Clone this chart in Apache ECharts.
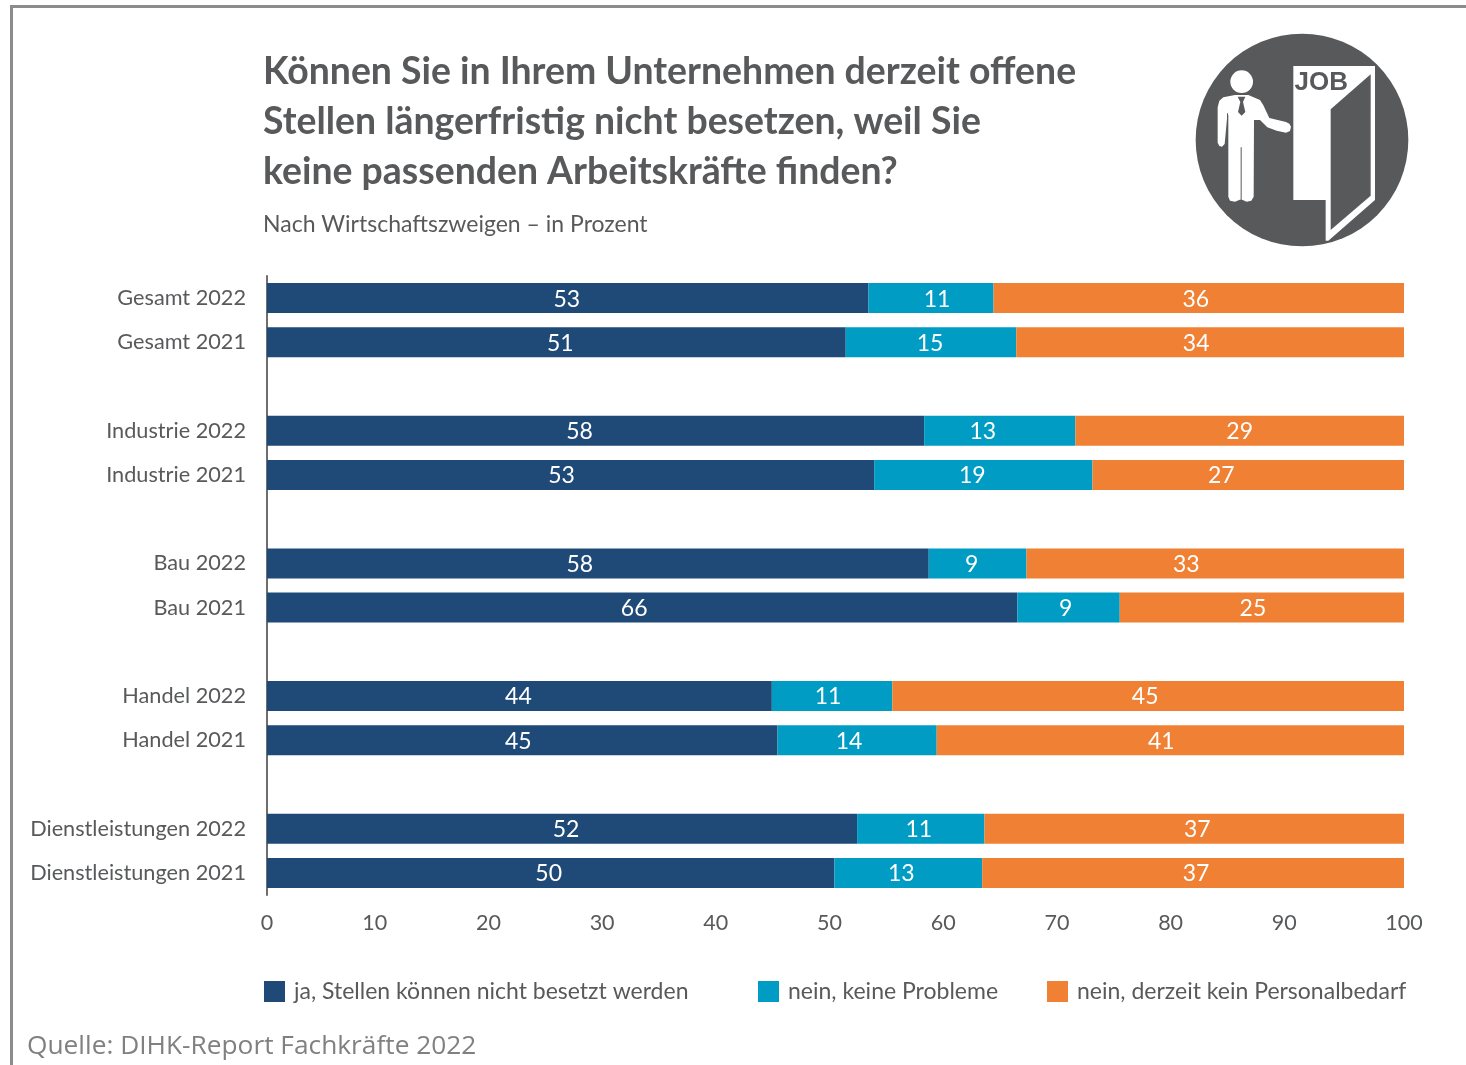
<!DOCTYPE html>
<html><head><meta charset="utf-8">
<style>html,body{margin:0;padding:0;background:#fff}#c{width:1466px;height:1065px}</style>
<script src="https://cdn.jsdelivr.net/npm/echarts@6/dist/echarts.min.js"></script>
</head><body><div id="c"></div>
<script>
const categories = ['Gesamt 2022','Gesamt 2021','','Industrie 2022','Industrie 2021','','Bau 2022','Bau 2021','','Handel 2022','Handel 2021','','Dienstleistungen 2022','Dienstleistungen 2021'];
const seriesNames = ['ja, Stellen können nicht besetzt werden','nein, keine Probleme','nein, derzeit kein Personalbedarf'];
// segment lengths
const jaValues    = [52.9,50.9,null,57.8,53.4,null,58.2,66.0,null,44.4,44.9,null,51.9,49.9];
const neinValues  = [11.0,15.0,null,13.3,19.2,null,8.6,9.0,null,10.6,14.0,null,11.2,13.0];
const keinValues  = [36.1,34.1,null,28.9,27.4,null,33.2,25.0,null,45.0,41.1,null,36.9,37.1];
// numbers printed on the bars
const jaLabels    = [53,51,null,58,53,null,58,66,null,44,45,null,52,50];
const neinLabels  = [11,15,null,13,19,null,9,9,null,11,14,null,11,13];
const keinLabels  = [36,34,null,29,27,null,33,25,null,45,41,null,37,37];
const titleText = 'Können Sie in Ihrem Unternehmen derzeit offene\nStellen längerfristig nicht besetzen, weil Sie\nkeine passenden Arbeitskräfte finden?';
const subtitleText = 'Nach Wirtschaftszweigen – in Prozent';
const sourceText = 'Quelle: DIHK-Report Fachkräfte 2022';
const colors = ['#1f4a78','#009cc4','#f08033'];
const gray = '#58595b';
const FONT = 'Lato';
// the printed numbers sit off-centre in the original: horizontal nudge in px
const jaNudge   = [-1,4,0,-16,-9,0,-18,-8,0,-1,-4,0,4,-2];
const neinNudge = [6,-1,0,-17,-11,0,-6,-3,0,-4,-8,0,-2,-7];
const keinNudge = [-3,-14,0,0,-27,0,-29,-9,0,-3,-9,0,3,3];

const chart = echarts.init(document.getElementById('c'), null, {renderer:'canvas'});
function bar(i, vals, labs, nudge){
  return {name:seriesNames[i], type:'bar', stack:'a', barWidth:30,
    data:vals.map((v,k)=>({value:v, label:{offset:[nudge[k],1]}})),
    itemStyle:{color:colors[i]},
    label:{show:true, position:'inside', color:'#fff', fontFamily:FONT, fontSize:23,
      formatter:p=>labs[p.dataIndex]==null?'':String(labs[p.dataIndex])}};
}
function leg(i,x){
  return {data:[seriesNames[i]], left:x, top:980, orient:'horizontal', icon:'rect', itemWidth:21, itemHeight:21, selectedMode:false,
    padding:0, textStyle:{color:gray, fontFamily:FONT, fontSize:23, padding:[0,0,0,4]}};
}
const tickBase = {color:gray, fontFamily:FONT, fontSize:21.5};
chart.setOption({
  animation:false,
  backgroundColor:'#fff',
  title:[
    {text:titleText, left:263, top:47, padding:0, textStyle:{color:gray, fontFamily:FONT, fontWeight:'bold', fontSize:37.4, lineHeight:50}},
    {text:subtitleText, left:263, top:213, padding:0, textStyle:{color:gray, fontFamily:FONT, fontWeight:'normal', fontSize:23}},
    {text:sourceText, left:27, top:1034, padding:0, textStyle:{color:'#808080', fontFamily:'Open Sans', fontWeight:'normal', fontSize:26.3}}
  ],
  legend:[leg(0,264),leg(1,758),leg(2,1047)],
  grid:{left:267, top:276, width:1137, height:619, containLabel:false},
  xAxis:{type:'value', min:0, max:100, interval:10, splitLine:{show:false}, axisLine:{show:false}, axisTick:{show:false},
    axisLabel:{...tickBase, margin:17,
      formatter:v=>(v===0||v===100)?`{e|${v}}`:`{m|${v}}`,
      rich:{e:{...tickBase}, m:{...tickBase, padding:[0,12,0,0]}}}},
  yAxis:{type:'category', data:categories, inverse:true, axisTick:{show:false},
    axisLine:{lineStyle:{color:'#6e6e6e', width:2}},
    axisLabel:{color:gray, fontFamily:FONT, fontSize:21.7, margin:21, interval:0, padding:[0,0,2,0]}},
  series:[bar(0,jaValues,jaLabels,jaNudge),bar(1,neinValues,neinLabels,neinNudge),bar(2,keinValues,keinLabels,keinNudge)],
  graphic:[
    {type:'rect', shape:{x:10,y:5,width:3,height:1060}, style:{fill:'#8c8c8c'}, silent:true},
    {type:'rect', shape:{x:10,y:5,width:1456,height:3}, style:{fill:'#8c8c8c'}, silent:true},
    {type:'group', x:1180, y:20, scaleX:1/3, scaleY:1/3, silent:true, children:[
      {type:'circle', shape:{cx:366,cy:360,r:319}, style:{fill:gray}},
      {type:'polygon', shape:{points:[[340,138],[585,138],[585,540],[445,662],[437,662],[437,540],[340,540]]}, style:{fill:'#fff'}},
      {type:'polygon', shape:{points:[[452,268],[572,163],[572,527],[452,630]]}, style:{fill:gray}},
      {type:'text', style:{text:'JOB', x:424, y:188, align:'center', verticalAlign:'middle', font:'bold 78px "Liberation Sans"', fill:gray}},
      {type:'circle', shape:{cx:185,cy:185,r:34}, style:{fill:'#fff'}},
      {type:'polygon', shape:{points:[[165,225],[130,232],[118,242],[113,262],[113,368],[118,378],[126,380],[134,372],[142,285],[145,285],[145,530],[150,542],[165,545],[183,538],[200,545],[214,542],[221,530],[222,300],[240,300],[262,322],[290,332],[318,338],[330,333],[333,320],[328,311],[318,306],[268,294],[250,256],[240,240],[205,225]]}, style:{fill:'#fff'}},
      {type:'polygon', shape:{points:[[173,230],[196,230],[189,246],[196,276],[185,287],[174,276],[181,246]]}, style:{fill:gray}},
      {type:'rect', shape:{x:182,y:382,width:3,height:156}, style:{fill:gray}},
      {type:'rect', shape:{x:141,y:280,width:3,height:90}, style:{fill:gray}}
    ]}
  ]
});
</script></body></html>
